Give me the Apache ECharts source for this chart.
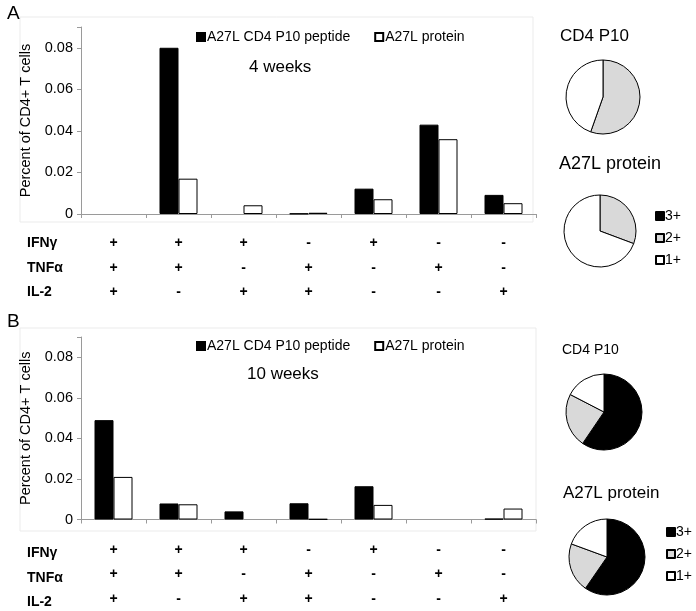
<!DOCTYPE html>
<html>
<head>
<meta charset="utf-8">
<script src="https://cdn.jsdelivr.net/npm/echarts@6/dist/echarts.min.js"></script>
<style>html,body{margin:0;padding:0;background:#fff}#c{width:696px;height:611px}</style>
</head>
<body>
<div id="c"></div>
<script>
// ---- data ----
const categories = ['+/+/+', '+/+/-', '+/-/+', '-/+/+', '+/-/-', '-/+/-', '-/-/+'];
const ifngRow = ['+', '+', '+', '-', '+', '-', '-'];
const tnfaRow = ['+', '+', '-', '+', '-', '+', '-'];
const il2Row  = ['+', '-', '+', '+', '-', '-', '+'];
const rowNames = ['IFNγ', 'TNFα', 'IL-2'];
const seriesNames = ['A27L CD4 P10 peptide', 'A27L protein'];

const peptide4wk = [0, 0.080, 0, 0.0002, 0.0122, 0.043, 0.0092];
const protein4wk = [0, 0.017, 0.0042, 0.0006, 0.0071, 0.036, 0.0052];
const peptide10wk = [0.049, 0.0079, 0.004, 0.008, 0.0164, 0, 0.0004];
const protein10wk = [0.021, 0.0075, 0, 0.0002, 0.0072, 0, 0.0054];

const yTicks = [0, 0.02, 0.04, 0.06, 0.08];
const pieNames = ['3+', '2+', '1+'];
const pieA_P10 = [0, 55.4, 44.6];
const pieA_protein = [0, 30.7, 69.3];
const pieB_P10 = [59.5, 23.1, 17.4];
const pieB_protein = [59.6, 21.0, 19.4];

// ---- chart ----
const FONT = 'Liberation Sans, Arial, sans-serif';
const pieColors = ['#000000', '#d9d9d9', '#ffffff'];
const chart = echarts.init(document.getElementById('c'), null, {renderer: 'canvas'});

function xAxisFor(gi, margin, lh) {
  return {
    type: 'category', gridIndex: gi, data: categories,
    axisLine: {lineStyle: {color: '#9a9a9a', width: 1}},
    axisTick: {show: true, length: 4, lineStyle: {color: '#9a9a9a'}},
    axisLabel: {
      interval: 0, margin: margin, fontFamily: FONT, fontSize: 14, fontWeight: 'bold',
      color: '#000', lineHeight: lh,
      formatter: (v, i) => ifngRow[i] + '\n' + tnfaRow[i] + '\n' + il2Row[i]
    }
  };
}
function yAxisFor(gi) {
  return {
    type: 'value', gridIndex: gi, min: 0, max: 0.09, interval: 0.02,
    name: 'Percent of CD4+ T cells', nameLocation: 'middle', nameGap: 44,
    nameTextStyle: {fontFamily: FONT, fontSize: 14.5, color: '#000'},
    axisLine: {show: true, lineStyle: {color: '#9a9a9a'}},
    axisTick: {show: true, length: 4, lineStyle: {color: '#9a9a9a'}},
    splitLine: {show: false},
    axisLabel: {
      fontFamily: FONT, fontSize: 14.5, color: '#000', margin: 8,
      formatter: v => (yTicks.some(t => Math.abs(t - v) < 1e-9) ? (v === 0 ? '0' : v.toFixed(2)) : '')
    }
  };
}
function barSeries(name, data, gi, color) {
  return {
    type: 'bar', name: name, xAxisIndex: gi, yAxisIndex: gi,
    data: data.map(v => (v === 0 ? {value: v, itemStyle: {borderWidth: 0, opacity: 0}} : v)),
    barWidth: 19, barGap: '0%',
    itemStyle: {color: color, borderColor: '#000', borderWidth: 1},
    emphasis: {disabled: true}, animation: false
  };
}
function pieSeries(values, cx, cy, r) {
  return {
    type: 'pie', center: [cx, cy], radius: r, startAngle: 90, clockwise: true,
    label: {show: false}, labelLine: {show: false}, animation: false,
    emphasis: {disabled: true}, stillShowZeroSum: true,
    data: pieNames.map((n, i) => ({name: n, value: values[i], itemStyle: {color: pieColors[i]}})),
    itemStyle: {borderColor: '#000', borderWidth: 1}
  };
}
function barLegend(top) {
  return {
    data: seriesNames, top: top, left: 191, itemGap: 24,
    icon: 'rect', itemWidth: 8, itemHeight: 8,
    textStyle: {fontFamily: FONT, fontSize: 14, color: '#000', padding: [0, 0, 0, -3]},
    selectedMode: false
  };
}
function pieLegend(left, top) {
  return {
    data: pieNames, orient: 'vertical', left: left, top: top, itemGap: 8,
    icon: 'rect', itemWidth: 8, itemHeight: 8,
    textStyle: {fontFamily: FONT, fontSize: 14, color: '#000', padding: [0, 0, 0, -4]},
    selectedMode: false
  };
}
function txt(x, y, s, size, bold) {
  return {type: 'text', x: x, y: y, style: {text: s, font: (bold ? 'bold ' : '') + size + 'px ' + FONT, fill: '#000', textVerticalAlign: 'middle'}};
}

const graphics = [
  {type: 'rect', shape: {x: 20, y: 17, width: 513, height: 205}, style: {fill: 'none', stroke: '#ebebeb', lineWidth: 1}, z: -1},
  {type: 'rect', shape: {x: 20, y: 328, width: 516, height: 203}, style: {fill: 'none', stroke: '#ebebeb', lineWidth: 1}, z: -1},
  txt(7, 14, 'A', 19),
  txt(7, 322, 'B', 19),
  txt(249, 67, '4 weeks', 17),
  txt(247, 374, '10 weeks', 17)
];
const rowYA = [243, 268, 292];
const rowYB = [553, 578, 602];
rowNames.forEach((n, i) => {
  graphics.push(txt(27, rowYA[i], n, 14, true));
  graphics.push(txt(27, rowYB[i], n, 14, true));
});

chart.setOption({
  animation: false,
  backgroundColor: '#fff',
  grid: [
    {left: 81, top: 27, width: 455, height: 187},
    {left: 81, top: 337, width: 455, height: 186}
  ],
  xAxis: [xAxisFor(0, 17, 24.5), xAxisFor(1, 18, 24.5)],
  yAxis: [yAxisFor(0), yAxisFor(1)],
  legend: [barLegend(25), barLegend(334), pieLegend(650, 204), pieLegend(661, 520)],
  title: [
    {text: 'CD4 P10', left: 555, top: 23, textStyle: {fontFamily: FONT, fontSize: 17, fontWeight: 'normal', color: '#000'}},
    {text: 'A27L protein', left: 554, top: 150, textStyle: {fontFamily: FONT, fontSize: 18, fontWeight: 'normal', color: '#000'}},
    {text: 'CD4 P10', left: 557, top: 338, textStyle: {fontFamily: FONT, fontSize: 14, fontWeight: 'normal', color: '#000'}},
    {text: 'A27L protein', left: 558, top: 480, textStyle: {fontFamily: FONT, fontSize: 17, fontWeight: 'normal', color: '#000'}}
  ],
  series: [
    barSeries(seriesNames[0], peptide4wk, 0, '#000'),
    barSeries(seriesNames[1], protein4wk, 0, '#fff'),
    barSeries(seriesNames[0], peptide10wk, 1, '#000'),
    barSeries(seriesNames[1], protein10wk, 1, '#fff'),
    pieSeries(pieA_P10, 603, 97, 37),
    pieSeries(pieA_protein, 600, 231, 36),
    pieSeries(pieB_P10, 604, 412, 38),
    pieSeries(pieB_protein, 607, 557, 38)
  ],
  graphic: graphics
});
</script>
</body>
</html>
